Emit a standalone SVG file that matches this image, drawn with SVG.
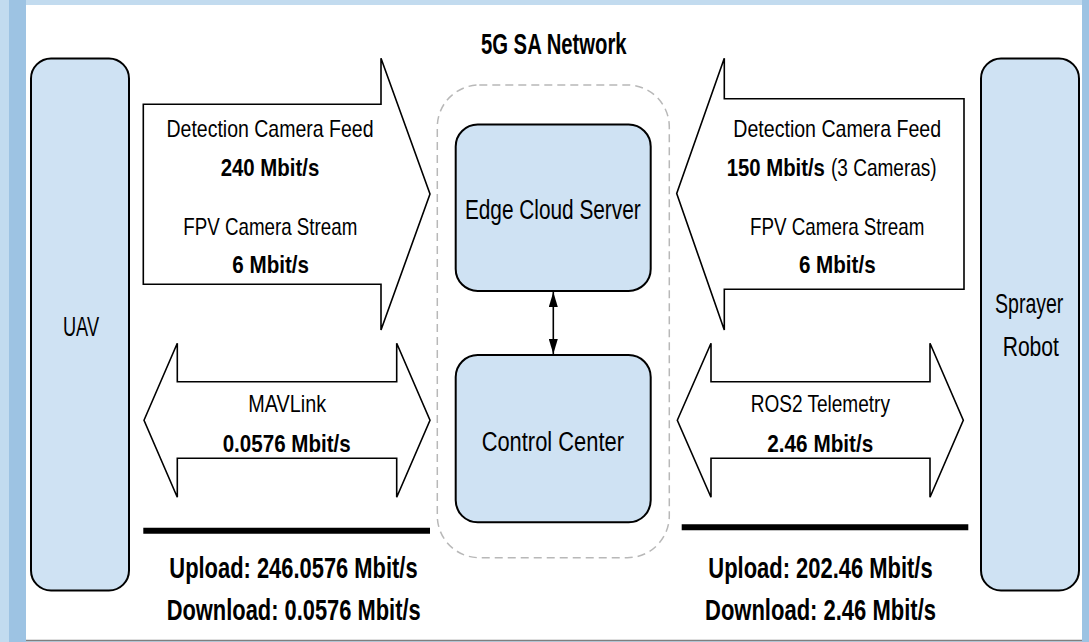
<svg xmlns="http://www.w3.org/2000/svg" width="1089" height="642" viewBox="0 0 1089 642">
<defs>
<style>
.t{font-family:"Liberation Sans",Arial,sans-serif;fill:#000}
.m{text-anchor:middle}
.r{font-size:24px}
.b{font-size:24px;font-weight:bold}
.bb{font-size:29px;font-weight:bold}
.n{font-size:27px}
.big{font-size:28px}
.box{fill:#cfe2f3;stroke:#000;stroke-width:2}
.arr{fill:#fff;stroke:#000;stroke-width:1.6;stroke-linejoin:miter}
.bar{stroke:#000;stroke-width:6}
</style>
<marker id="ah" markerUnits="userSpaceOnUse" markerWidth="15" markerHeight="9" refX="15" refY="4.5" orient="auto-start-reverse">
<path d="M0,0 L15,4.5 L0,9 z" fill="#000"/>
</marker>
</defs>
<g id="background">
<rect x="0" y="0" width="1089" height="642" fill="#c2dbef"/>
<rect x="9" y="0" width="17" height="642" fill="#9dc3e3"/>
<rect x="1082" y="0" width="7" height="642" fill="#9dc3e3"/>
<rect x="26" y="5" width="1056" height="635" fill="#fff"/>
<line x1="26" y1="640.5" x2="1082" y2="640.5" stroke="#7f7f7f" stroke-width="1.5"/>
</g>
<g id="network">
<rect x="437.3" y="85" width="232" height="472.7" rx="42" fill="none" stroke="#b8b8b8" stroke-width="1.5" stroke-dasharray="8 5"/>
<text class="t bb m" x="553.8" y="54.3" textLength="145.7" lengthAdjust="spacingAndGlyphs">5G SA Network</text>
</g>
<g id="uav">
<rect class="box" x="31" y="58.5" width="98" height="532" rx="20"/>
<text class="t big m" transform="translate(81,335.7) scale(0.65,1)">UAV</text>
</g>
<g id="sprayer-robot">
<rect class="box" x="981" y="58.5" width="98" height="532" rx="20"/>
<text class="t big m" transform="translate(1029.2,313.3) scale(0.697,1)">Sprayer</text>
<text class="t big m" transform="translate(1030.8,356) scale(0.754,1)">Robot</text>
</g>
<g id="edge-cloud-server">
<rect class="box" x="455.7" y="124.5" width="195" height="166.5" rx="22"/>
<text class="t n m" x="552.8" y="219" textLength="175.7" lengthAdjust="spacingAndGlyphs">Edge Cloud Server</text>
</g>
<g id="control-center">
<rect class="box" x="455.7" y="355" width="195" height="167.3" rx="22"/>
<text class="t n m" x="552.8" y="450.7" textLength="142.3" lengthAdjust="spacingAndGlyphs">Control Center</text>
</g>
<g id="connectors">
<line x1="553.3" y1="292" x2="553.3" y2="354" stroke="#000" stroke-width="1.6" marker-start="url(#ah)" marker-end="url(#ah)"/>
<polygon class="arr" points="143.3,104.3 381,104.3 381,58.3 430,194 381,330 381,284.3 143.3,284.3"/>
<polygon class="arr" points="964,98.7 724.3,98.7 724.3,58.3 676.7,193.5 724.3,330 724.3,289.3 964,289.3"/>
<polygon class="arr" points="144,420.3 177.3,343.3 177.3,381.7 396.7,381.7 396.7,343.3 430,420.3 396.7,497.3 396.7,458.3 177.3,458.3 177.3,497.3"/>
<polygon class="arr" points="677.3,420.3 711,343.3 711,381.7 930,381.7 930,343.3 963.3,420.3 930,497.3 930,458.3 711,458.3 711,497.3"/>
<line class="bar" x1="143.3" y1="530.7" x2="430" y2="530.7"/>
<line class="bar" x1="681.7" y1="527.3" x2="968.3" y2="527.3"/>
</g>
<g id="labels">
<text class="t r m" x="270" y="136.7" textLength="207" lengthAdjust="spacingAndGlyphs">Detection Camera Feed</text>
<text class="t b m" x="270" y="175.7" textLength="98.7" lengthAdjust="spacingAndGlyphs">240 Mbit/s</text>
<text class="t r m" x="270.3" y="235" textLength="174" lengthAdjust="spacingAndGlyphs">FPV Camera Stream</text>
<text class="t b m" x="270.7" y="273.3" textLength="76.7" lengthAdjust="spacingAndGlyphs">6 Mbit/s</text>
<text class="t r m" x="837.2" y="136.7" textLength="207.7" lengthAdjust="spacingAndGlyphs">Detection Camera Feed</text>
<text class="t b" transform="translate(726.7,175.7) scale(0.847,1)">150 Mbit/s</text>
<text class="t r" transform="translate(831,175.7) scale(0.793,1)">(3 Cameras)</text>
<text class="t r m" x="837.2" y="235" textLength="174.3" lengthAdjust="spacingAndGlyphs">FPV Camera Stream</text>
<text class="t b m" x="837.3" y="273.3" textLength="76.7" lengthAdjust="spacingAndGlyphs">6 Mbit/s</text>
<text class="t r m" x="287.2" y="411.7" textLength="77.7" lengthAdjust="spacingAndGlyphs">MAVLink</text>
<text class="t b m" x="286.7" y="451.7" textLength="128" lengthAdjust="spacingAndGlyphs">0.0576 Mbit/s</text>
<text class="t r m" x="820.3" y="411.7" textLength="139.3" lengthAdjust="spacingAndGlyphs">ROS2 Telemetry</text>
<text class="t b m" x="820.3" y="451.7" textLength="106" lengthAdjust="spacingAndGlyphs">2.46 Mbit/s</text>
<text class="t bb m" x="293.5" y="578.3" textLength="248.3" lengthAdjust="spacingAndGlyphs">Upload: 246.0576 Mbit/s</text>
<text class="t bb m" x="293.7" y="620" textLength="254" lengthAdjust="spacingAndGlyphs">Download: 0.0576 Mbit/s</text>
<text class="t bb m" x="820.5" y="578.3" textLength="224.3" lengthAdjust="spacingAndGlyphs">Upload: 202.46 Mbit/s</text>
<text class="t bb m" x="820.5" y="620" textLength="231" lengthAdjust="spacingAndGlyphs">Download: 2.46 Mbit/s</text>
</g>
</svg>
